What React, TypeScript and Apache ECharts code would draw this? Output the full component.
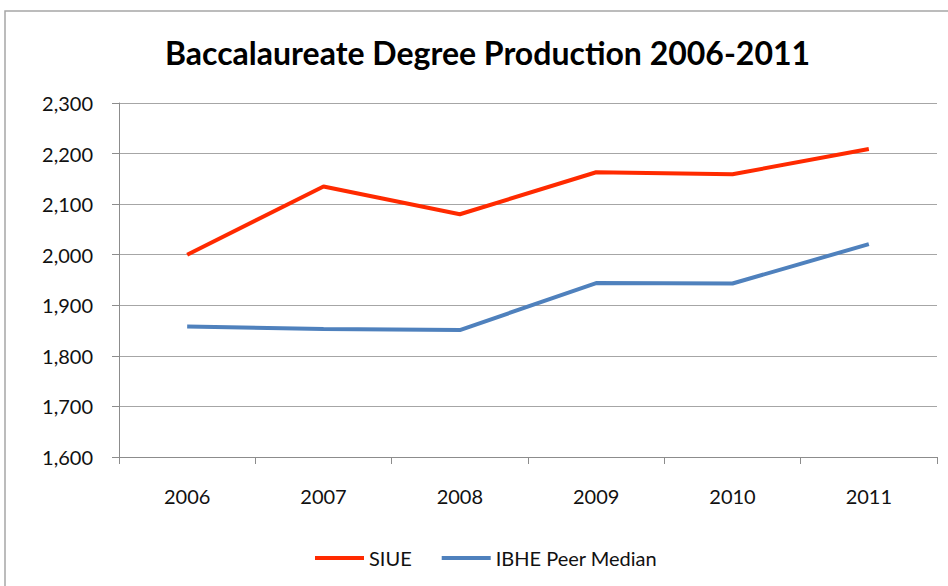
import React, { useEffect, useRef } from "react";
import * as echarts from "echarts";

const years = ["2006", "2007", "2008", "2009", "2010", "2011"];
const siue = [2000, 2135, 2080, 2163, 2159, 2209];
const ibhePeerMedian = [1858, 1853, 1851, 1944, 1943, 2021];
const seriesNames = ["SIUE", "IBHE Peer Median"];
const titleText = "Baccalaureate Degree Production 2006-2011";

export default function App() {
  const ref = useRef<HTMLDivElement>(null);
  useEffect(() => {
    document.body.style.margin = "0";
    const chart = echarts.init(ref.current!, null, { renderer: "svg" });
    const font = "Lato, 'Open Sans', sans-serif";
    chart.setOption({
      animation: false,
      backgroundColor: "#ffffff",
      title: {
        text: titleText,
        left: 160,
        top: 31,
        textStyle: { fontFamily: font, fontSize: 32, fontWeight: "bold", color: "#000" },
      },
      graphic: [
        {
          type: "rect",
          shape: { x: 5, y: 11, width: 1000, height: 700 },
          style: { fill: "none", stroke: "#a6a6a6", lineWidth: 1.5 },
          silent: true,
        },
      ],
      legend: {
        top: 543,
        left: 310,
        itemWidth: 49,
        itemHeight: 4,
        itemGap: 30,
        icon: "rect",
        textStyle: { fontFamily: font, fontSize: 20, color: "#111" },
        data: seriesNames,
      },
      grid: { left: 119, right: 11, top: 103, bottom: 129 },
      xAxis: {
        type: "category",
        data: years,
        boundaryGap: true,
        axisLine: { lineStyle: { color: "#8c8c8c", width: 1 } },
        axisTick: { show: true, length: 7, lineStyle: { color: "#8c8c8c" } },
        axisLabel: { fontFamily: font, fontSize: 20, color: "#111", margin: 29 },
      },
      yAxis: {
        type: "value",
        min: 1600,
        max: 2300,
        interval: 100,
        axisLine: { show: true, lineStyle: { color: "#8c8c8c", width: 1 } },
        axisTick: { show: true, length: 7, lineStyle: { color: "#8c8c8c" } },
        splitLine: { lineStyle: { color: "#a6a6a6", width: 1.2 } },
        axisLabel: {
          fontFamily: font,
          fontSize: 20,
          color: "#111",
          margin: 26,
          formatter: (v: number) => v.toLocaleString("en-US"),
        },
      },
      series: [
        {
          name: seriesNames[0],
          type: "line",
          data: siue,
          symbol: "none",
          color: "#ff2a00",
          lineStyle: { width: 4, color: "#ff2a00" },
        },
        {
          name: seriesNames[1],
          type: "line",
          data: ibhePeerMedian,
          symbol: "none",
          color: "#4f81bd",
          lineStyle: { width: 4, color: "#4f81bd" },
        },
      ],
    });
    return () => chart.dispose();
  }, []);
  return <div ref={ref} style={{ width: 948, height: 586 }} />;
}
